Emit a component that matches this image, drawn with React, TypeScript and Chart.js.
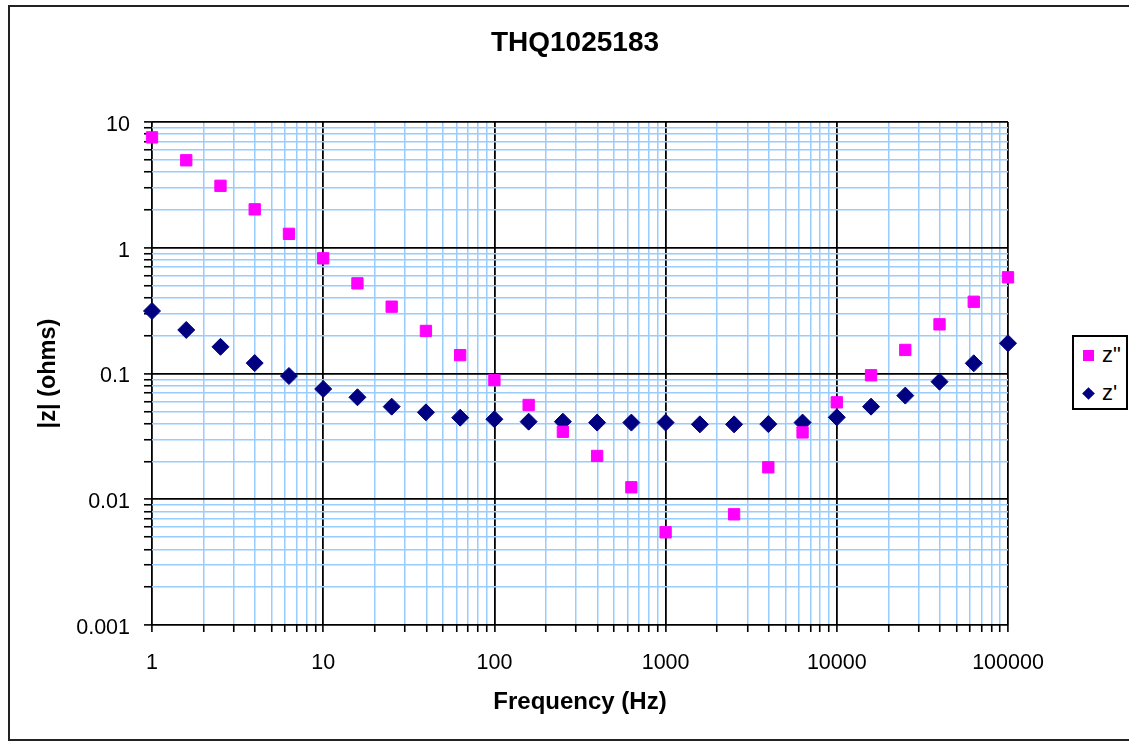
import React, { useEffect, useRef } from 'react';
import { Chart, registerables } from 'chart.js';

Chart.register(...registerables);

const chartTitle = 'THQ1025183';
const xAxisTitle = 'Frequency (Hz)';
const yAxisTitle = '|z| (ohms)';
const seriesNames = ['z"', "z'"];

const frequencies = [1, 1.585, 2.512, 3.981, 6.31, 10, 15.85, 25.12, 39.81, 63.1, 100, 158.5, 251.2, 398.1, 631, 1000, 1585, 2512, 3981, 6310, 10000, 15850, 25120, 39810, 63100, 100000];
const zDoublePrime = [7.55, 4.96, 3.11, 2.02, 1.29, 0.824, 0.521, 0.34, 0.218, 0.14, 0.0887, 0.0562, 0.0344, 0.0221, 0.01245, 0.00546, null, 0.00759, 0.01795, 0.034, 0.059, 0.0968, 0.154, 0.246, 0.372, 0.582];
const zPrime = [0.314, 0.222, 0.163, 0.121, 0.0955, 0.0753, 0.0647, 0.0545, 0.0491, 0.0445, 0.0433, 0.0414, 0.0414, 0.0407, 0.0407, 0.0407, 0.0394, 0.0394, 0.0396, 0.0407, 0.0448, 0.0545, 0.0667, 0.0861, 0.1205, 0.174];

const xDecades = [1, 10, 100, 1000, 10000, 100000];
const xTickLabels = ['1', '10', '100', '1000', '10000', '100000'];
const yDecades = [0.001, 0.01, 0.1, 1, 10];
const yTickLabels = ['0.001', '0.01', '0.1', '1', '10'];
const minorSteps = [1, 2, 3, 4, 5, 6, 7, 8, 9];

const PINK = '#FF00FF';
const NAVY = '#000080';
const MINOR_GRID = '#99CCFF';
const FONT = '"Liberation Sans", Arial, sans-serif';

function buildLogTicks(decades: number[]) {
  const out: number[] = [];
  decades.forEach((d, i) => {
    if (i === decades.length - 1) {
      out.push(d);
    } else {
      minorSteps.forEach((m) => out.push(parseFloat((d * m).toPrecision(6))));
    }
  });
  return out;
}

function decadeIndex(v: number, decades: number[]) {
  for (let i = 0; i < decades.length; i++) {
    if (Math.abs(v - decades[i]) / decades[i] < 1e-6) return i;
  }
  return -1;
}

export default function App() {
  const canvasRef = useRef<HTMLCanvasElement | null>(null);

  useEffect(() => {
    if (!canvasRef.current) return;
    const xTicks = buildLogTicks(xDecades);
    const yTicks = buildLogTicks(yDecades);

    const gridColor = (decades: number[]) => (ctx: any) =>
      ctx.tick && decadeIndex(ctx.tick.value, decades) >= 0 ? '#000000' : MINOR_GRID;
    const gridWidth = (decades: number[]) => (ctx: any) =>
      ctx.tick && decadeIndex(ctx.tick.value, decades) >= 0 ? 1.8 : 1.5;

    const chart = new Chart(canvasRef.current, {
      type: 'scatter',
      data: {
        datasets: [
          {
            label: seriesNames[0],
            data: frequencies.map((f, i) => ({ x: f, y: zDoublePrime[i] as any })),
            pointStyle: 'rect',
            pointRadius: 8,
            pointHoverRadius: 8,
            backgroundColor: PINK,
            borderColor: PINK,
            borderWidth: 1,
            showLine: false,
            clip: false,
          },
          {
            label: seriesNames[1],
            data: frequencies.map((f, i) => ({ x: f, y: zPrime[i] })),
            pointStyle: 'rectRot',
            pointRadius: 8.5,
            pointHoverRadius: 8.5,
            backgroundColor: NAVY,
            borderColor: NAVY,
            borderWidth: 1,
            showLine: false,
            clip: false,
          },
        ],
      },
      options: {
        animation: false,
        responsive: false,
        maintainAspectRatio: false,
        devicePixelRatio: 1,
        layout: { padding: { left: 21, right: 0, top: 0, bottom: 0 } },
        plugins: {
          legend: { display: false },
          tooltip: { enabled: false },
          title: {
            display: true,
            text: chartTitle,
            color: '#000',
            font: { family: FONT, size: 28, weight: 'bold' },
            padding: { top: 26, bottom: 62.4 },
          },
        },
        scales: {
          x: {
            type: 'logarithmic',
            position: 'bottom',
            min: 1,
            max: 100000,
            afterBuildTicks: (s: any) => {
              s.ticks = xTicks.map((v) => ({ value: v }));
            },
            afterFit: (s: any) => {
              s.height = 116;
            },
            ticks: {
              autoSkip: false,
              maxRotation: 0,
              minRotation: 0,
              padding: 18,
              color: '#000',
              font: { family: FONT, size: 21.5 },
              callback: (v: any) => {
                const i = decadeIndex(Number(v), xDecades);
                return i >= 0 ? xTickLabels[i] : '';
              },
            },
            grid: {
              color: gridColor(xDecades),
              lineWidth: gridWidth(xDecades),
              tickColor: '#000',
              tickWidth: 1.6,
              tickLength: 7,
              drawTicks: true,
            },
            border: { display: false },
            title: {
              display: true,
              text: xAxisTitle,
              color: '#000',
              font: { family: FONT, size: 24, weight: 'bold' },
              padding: { top: 0, bottom: 24 },
            },
          },
          y: {
            type: 'logarithmic',
            position: 'left',
            min: 0.001,
            max: 10,
            afterBuildTicks: (s: any) => {
              s.ticks = yTicks.map((v) => ({ value: v }));
            },
            afterFit: (s: any) => {
              s.width = 131;
            },
            ticks: {
              autoSkip: false,
              padding: 14,
              labelOffset: 3,
              color: '#000',
              font: { family: FONT, size: 21.5 },
              callback: (v: any) => {
                const i = decadeIndex(Number(v), yDecades);
                return i >= 0 ? yTickLabels[i] : '';
              },
            },
            grid: {
              color: gridColor(yDecades),
              lineWidth: gridWidth(yDecades),
              tickColor: '#000',
              tickWidth: 1.6,
              tickLength: 8,
              drawTicks: true,
            },
            border: { display: false },
            title: {
              display: true,
              text: yAxisTitle,
              color: '#000',
              font: { family: FONT, size: 23.5, weight: 'bold' },
              padding: { top: 13, bottom: 0 },
            },
          },
          spacer: {
            type: 'linear',
            position: 'right',
            display: true,
            grid: { display: false, drawTicks: false },
            border: { display: false },
            ticks: { display: false },
            afterFit: (s: any) => {
              s.width = 121;
            },
          },
        },
      },
    } as any);

    return () => {
      chart.destroy();
    };
  }, []);

  const legendText: React.CSSProperties = {
    position: 'absolute',
    left: 28,
    fontFamily: FONT,
    fontSize: 22,
    lineHeight: '24px',
    color: '#000',
  };

  return (
    <div style={{ position: 'absolute', left: 0, top: 0, width: 1129, height: 741, overflow: 'hidden', background: '#fff' }}>
      <div
        style={{
          position: 'absolute',
          left: 8,
          top: 5,
          width: 1140,
          height: 732,
          border: '2px solid #222',
        }}
      />
      <canvas ref={canvasRef} width={1129} height={741} style={{ position: 'absolute', left: 0, top: 0, width: 1129, height: 741 }} />
      <div
        style={{
          position: 'absolute',
          left: 1072,
          top: 335,
          width: 52,
          height: 71,
          border: '2px solid #000',
          background: '#fff',
        }}
      >
        <div style={{ position: 'absolute', left: 9, top: 13, width: 11, height: 11, background: PINK }} />
        <div style={{ ...legendText, top: 6 }}>{seriesNames[0]}</div>
        <div
          style={{
            position: 'absolute',
            left: 10,
            top: 52,
            width: 9,
            height: 9,
            background: NAVY,
            transform: 'rotate(45deg)',
          }}
        />
        <div style={{ ...legendText, top: 44 }}>{seriesNames[1]}</div>
      </div>
    </div>
  );
}
